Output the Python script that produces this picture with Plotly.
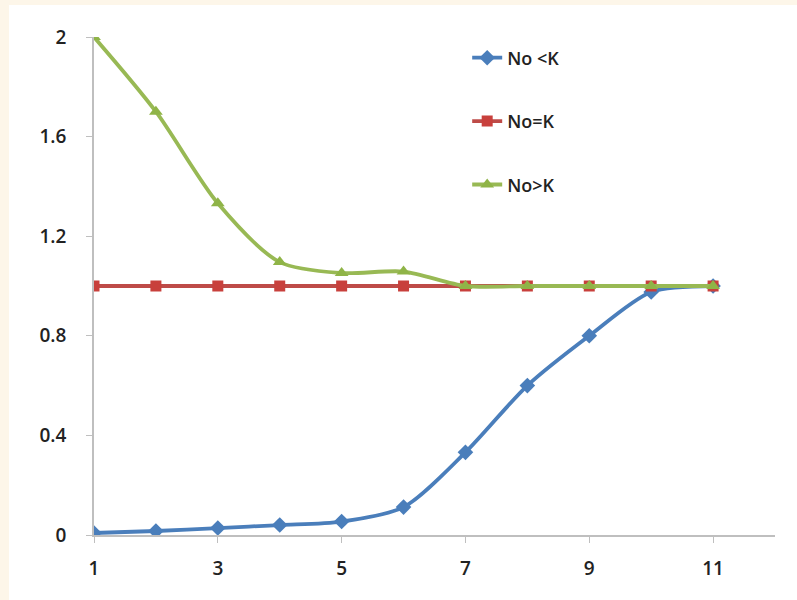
import plotly.graph_objects as go

x_vals = [1, 2, 3, 4, 5, 6, 7, 8, 9, 10, 11]
no_less_k = [0.008, 0.016, 0.028, 0.04, 0.054, 0.112, 0.332, 0.60, 0.80, 0.976, 1.0]
no_eq_k = [1.0, 1.0, 1.0, 1.0, 1.0, 1.0, 1.0, 1.0, 1.0, 1.0, 1.0]
no_greater_k = [2.0, 1.70, 1.332, 1.096, 1.052, 1.058, 1.0, 1.0, 1.0, 1.0, 1.0]
series_names = ["No <K", "No=K", "No>K"]

font_family = "Open Sans, Liberation Sans, Arial, sans-serif"

fig = go.Figure()
fig.add_trace(go.Scatter(
    x=x_vals, y=no_less_k, name=series_names[0], mode="lines+markers",
    line=dict(color="#4a7ebb", width=3.8, shape="spline", smoothing=0.8),
    marker=dict(symbol="diamond", size=12, color="#4a7ebb"),
    legendgroup="a"))
fig.add_trace(go.Scatter(
    x=x_vals, y=no_eq_k, name=series_names[1], mode="lines+markers",
    line=dict(color="#be4b48", width=3.8, shape="spline", smoothing=0.8),
    marker=dict(symbol="square", size=11, color="#c8403c"),
    legendgroup="b"))
fig.add_trace(go.Scatter(
    x=x_vals, y=no_greater_k, name=series_names[2], mode="lines+markers",
    line=dict(color="#98b954", width=3.8, shape="spline", smoothing=0.8),
    marker=dict(symbol="triangle-up", size=12, color="#8fb447"),
    legendgroup="c"))

fig.add_shape(type="rect", xref="paper", yref="paper",
              x0=(9 - 94) / 681, x1=1.2, y0=-0.3, y1=(535 - 5) / 498,
              fillcolor="white", line=dict(width=0), layer="below")

fig.update_layout(
    width=797, height=600,
    paper_bgcolor="#fdf6e9", plot_bgcolor="rgba(0,0,0,0)",
    margin=dict(l=94, r=22, t=37, b=65),
    font=dict(family=font_family, size=19, color="#222222", weight=600),
    showlegend=True,
    legend=dict(x=0.548, y=0.995, xanchor="left", yanchor="top",
                bgcolor="rgba(0,0,0,0)", tracegroupgap=37, itemwidth=30,
                font=dict(family=font_family, size=18, color="#222222", weight=600)),
    xaxis=dict(range=[1, 12], tickmode="array", tickvals=[1, 3, 5, 7, 9, 11],
               showgrid=False, zeroline=False, showline=True, linecolor="#bfbfbf",
               linewidth=1.5, ticks="outside", ticklen=6, tickcolor="#bfbfbf",
               ticklabelstandoff=9),
    yaxis=dict(range=[0, 2], tickmode="array", tickvals=[0, 0.4, 0.8, 1.2, 1.6, 2],
               ticktext=["0", "0.4", "0.8", "1.2", "1.6", "2"],
               showgrid=False, zeroline=False, showline=True, linecolor="#bfbfbf",
               linewidth=1.5, ticks="outside", ticklen=6, tickcolor="#bfbfbf",
               ticklabelstandoff=16),
)

fig.write_html("out.html")
